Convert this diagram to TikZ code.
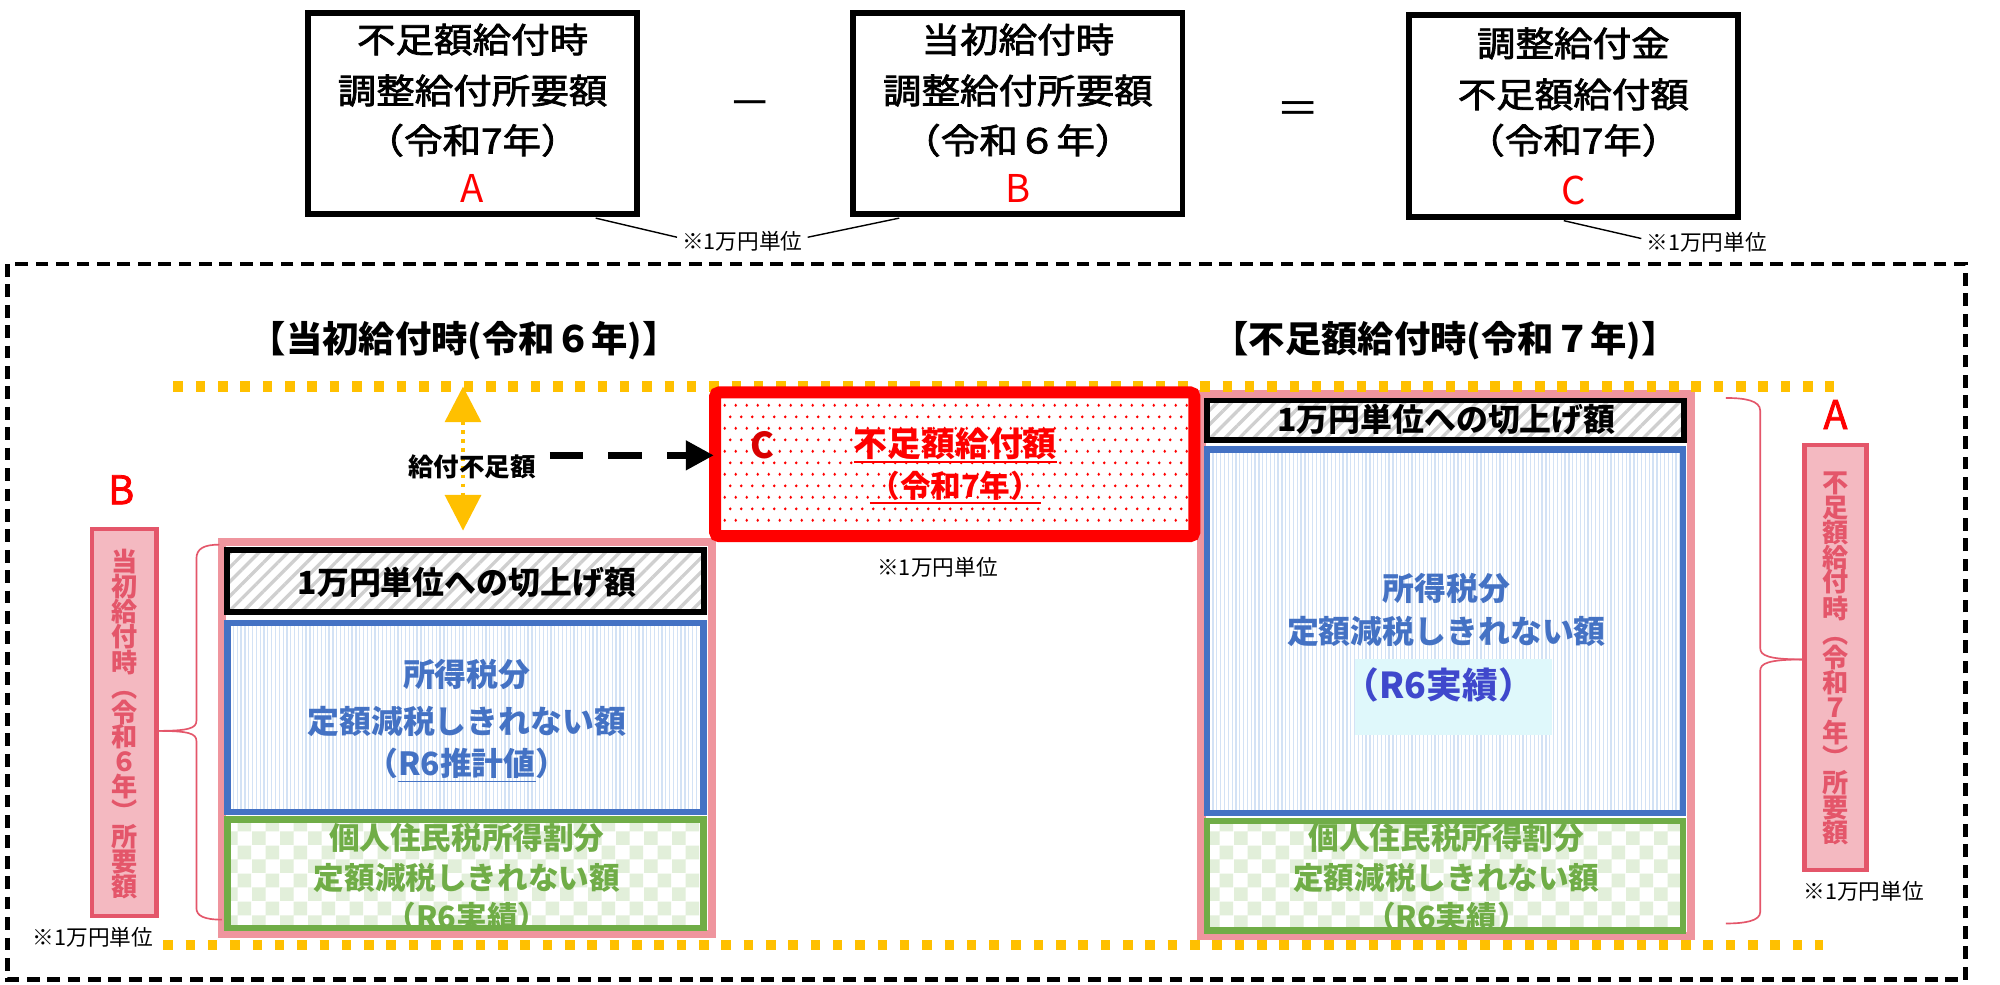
\documentclass[tikz,border=0pt]{standalone}
\usepackage{fontspec}
\setmainfont{Noto Sans CJK JP}
\newfontfamily\medjp{Noto Sans CJK JP}[FakeBold=2]
\usetikzlibrary{patterns,patterns.meta,arrows.meta}
\definecolor{pinkbd}{HTML}{EF959E}
\definecolor{lblfill}{HTML}{F4B9C1}
\definecolor{lblred}{HTML}{E4566A}
\definecolor{bluebd}{HTML}{4472C4}
\definecolor{stripe}{HTML}{D3E2F5}
\definecolor{greenbd}{HTML}{70AD47}
\definecolor{checkc}{HTML}{E2EFDA}
\definecolor{orng}{HTML}{FFC000}
\definecolor{darkbl}{HTML}{3F48CC}
\definecolor{cyanbg}{HTML}{DFF8FB}
\definecolor{hatchc}{HTML}{CFCFCF}
\pgfdeclarepatternformonly{checks}{\pgfpointorigin}{\pgfpoint{22pt}{22pt}}{\pgfpoint{22pt}{22pt}}{%
  \pgfpathrectangle{\pgfpointorigin}{\pgfpoint{11pt}{11pt}}%
  \pgfpathrectangle{\pgfpoint{11pt}{11pt}}{\pgfpoint{11pt}{11pt}}%
  \pgfusepath{fill}}
\pgfdeclarepatternformonly{rdots}{\pgfpointorigin}{\pgfpoint{9pt}{18pt}}{\pgfpoint{9pt}{18pt}}{%
  \pgfpathcircle{\pgfpoint{2.25pt}{4.5pt}}{1.2pt}%
  \pgfpathcircle{\pgfpoint{6.75pt}{13.5pt}}{1.2pt}%
  \pgfusepath{fill}}
\newcommand\ulx[1]{\setbox0\hbox{#1}\rlap{\rule[-5pt]{\wd0}{1.3pt}}\box0}
\newcommand\toptxt[1]{\scalebox{1.06}[0.95]{#1}}
\begin{document}
\begin{tikzpicture}[x=1pt,y=-1pt,
  every node/.style={inner sep=0pt, outer sep=0pt},
  topbox/.style={draw=black, line width=4.5pt, fill=white, minimum width=258pt, minimum height=158pt},
  toptext/.style={font=\medjp\fontsize{28.5}{30}\selectfont},
  abc/.style={text=red, font=\fontsize{30}{30}\selectfont},
  note/.style={font=\fontsize{17}{18}\selectfont},
  head/.style={font=\bfseries\fontsize{28.5}{29}\selectfont},
  container/.style={draw=pinkbd, line width=6.5pt, fill=white},
  hatchbox/.style={draw=black, line width=4.5pt, preaction={fill=white},
    pattern={Lines[angle=45,distance=8pt,line width=2.6pt]}, pattern color=hatchc},
  bluebox/.style={draw=bluebd, line width=5pt, preaction={fill=white},
    pattern={Lines[angle=90,distance=3pt,line width=1pt]}, pattern color=stripe},
  greenbox/.style={draw=greenbd, line width=5pt, preaction={fill=white},
    pattern=checks, pattern color=checkc},
  hatchtext/.style={font=\bfseries\fontsize{25}{26}\selectfont},
  bluetext/.style={text=bluebd, font=\bfseries\fontsize{25}{26}\selectfont},
  greentext/.style={text=greenbd, font=\bfseries\fontsize{24}{25}\selectfont},
  lblbox/.style={draw=lblred, line width=3.5pt, fill=lblfill},
  lbltext/.style={text=lblred, align=center, font=\bfseries\fontsize{20.5}{19.5}\selectfont},
  sideletter/.style={text=red, font=\medjp\fontsize{31}{31}\selectfont},
  bracestyle/.style={draw=lblred, line width=1.3pt},
  orangeline/.style={draw=orng, line width=8pt, dash pattern=on 7.5pt off 10pt},
  callout/.style={draw=black, line width=1.1pt}
]
\fill[white] (0,0) rectangle (1568,772);
\useasboundingbox (0,0) rectangle (1568,772);

% ---------- top formula ----------
\node[topbox] (boxA) at (370.5,89) {};
\node[toptext] (a1) at (370.5,31) {\toptxt{不足額給付時}};
\node[toptext] (a2) at (370.5,71) {\toptxt{調整給付所要額}};
\node[toptext] (a3) at (370.5,110) {\toptxt{（令和7年）}};
\node[abc] (a4) at (370.5,148) {A};

\node[font=\fontsize{34}{34}\selectfont] (minus) at (588,86) {－};

\node[topbox] (boxB) at (798,89) {};
\node[toptext] (b1) at (798,31) {\toptxt{当初給付時}};
\node[toptext] (b2) at (798,71) {\toptxt{調整給付所要額}};
\node[toptext] (b3) at (798,110) {\toptxt{（令和６年）}};
\node[abc] (b4) at (798,148) {B};

\node[font=\fontsize{34}{34}\selectfont] (equal) at (1018,89) {＝};

\node[topbox] (boxC) at (1233.5,91) {};
\node[toptext] (c1) at (1233.5,34) {\toptxt{調整給付金}};
\node[toptext] (c2) at (1233.5,74) {\toptxt{不足額給付額}};
\node[toptext] (c3) at (1233.5,110) {\toptxt{（令和7年）}};
\node[abc] (c4) at (1233.5,149) {C};

\node[note] (note1) at (582,189) {※1万円単位};
\node[note] (note2) at (1338,190) {※1万円単位};
\draw[callout] (467,171) -- ([xshift=-4pt,yshift=3pt]note1.west);
\draw[callout] ([xshift=4pt,yshift=3pt]note1.east) -- (705,171);
\draw[callout] (1226,173) -- ([xshift=-4pt,yshift=3pt]note2.west);

% ---------- outer frame ----------
\draw[black, line width=3.5pt, dash pattern=on 10pt off 6pt] (6,207) rectangle (1541,768);

% ---------- headings ----------
\node[head] (headL) at (364,267) {【当初給付時(令和６年)】};
\node[head] (headR) at (1133,267) {【不足額給付時(令和７年)】};

% ---------- left column (R6) ----------
\node[container, minimum width=384pt, minimum height=307pt] (contL) at (366,578.5) {};
\node[hatchbox, minimum width=374pt, minimum height=49pt] (hatL) at (365,455.5) {};
\node[hatchtext] (hatLt) at (366,457) {1万円単位への切上げ額};
\node[bluebox, minimum width=373pt, minimum height=148pt] (bluL) at (365,562.5) {};
\node[bluetext] (bluL1) at (366,529) {所得税分};
\node[bluetext] (bluL2) at (366,566) {定額減税しきれない額};
\node[bluetext] (bluL3) at (366,600) {（\ulx{R6推計値}）};
\node[greenbox, minimum width=373pt, minimum height=85pt] (grnL) at (365,685) {};
\node[greentext] (grnL1) at (366,657) {個人住民税所得割分};
\node[greentext] (grnL2) at (366,688) {定額減税しきれない額};
\node[greentext] (grnL3) at (366,719) {（R6実績）};

% ---------- right column (R7) ----------
\node[container, minimum width=384pt, minimum height=425pt] (contR) at (1134,521.5) {};
\node[hatchbox, minimum width=374pt, minimum height=31pt] (hatR) at (1133,329.5) {};
\node[hatchtext] (hatRt) at (1134,329) {1万円単位への切上げ額};
\node[bluebox, minimum width=373pt, minimum height=285pt] (bluR) at (1133,495) {};
\node[fill=cyanbg, minimum width=155pt, minimum height=59pt] (cyanR) at (1139.5,546.5) {};
\node[bluetext] (bluR1) at (1134,461) {所得税分};
\node[bluetext] (bluR2) at (1134,495) {定額減税しきれない額};
\node[text=darkbl, font=\bfseries\fontsize{28}{28}\selectfont] (bluR3) at (1128,537) {（R6実績）};
\node[greenbox, minimum width=373pt, minimum height=86pt] (grnR) at (1133,686.5) {};
\node[greentext] (grnR1) at (1134,657) {個人住民税所得割分};
\node[greentext] (grnR2) at (1134,688) {定額減税しきれない額};
\node[greentext] (grnR3) at (1134,719) {（R6実績）};

% ---------- orange guide lines ----------
\draw[orangeline] (136,303) -- (1438,303);
\draw[orangeline] (128,741) -- (1429,741);

% ---------- shortfall arrow ----------
\coordinate (gapTop) at (363,303);
\coordinate (gapBot) at (363,416);
\draw[draw=orng, line width=3.5pt, dash pattern=on 3pt off 4pt,
  {Triangle[length=28pt,width=28pt,fill=orng]}-{Triangle[length=28pt,width=28pt,fill=orng]}] (gapTop) -- (gapBot);
\node[font=\bfseries\fontsize{20}{20}\selectfont] (gap) at (370,366) {給付不足額};

% ---------- C box ----------
\node[draw=red, line width=9.4pt, rounded corners=3pt, preaction={fill=white},
  pattern=rdots, pattern color=red, minimum width=375.6pt, minimum height=112.6pt] (boxCC) at (748.5,364) {};
\node[text=red!85!black, font=\bfseries\fontsize{28}{28}\selectfont] (cc0) at (598,349) {C};
\node[text=red, font=\bfseries\fontsize{26.5}{27}\selectfont] (cc1) at (749,349) {\ulx{不足額給付額}};
\node[text=red, font=\bfseries\fontsize{24}{25}\selectfont] (cc2) at (749,382) {\ulx{（令和7年）}};
\node[note] (note3) at (735,445) {※1万円単位};

\draw[black, line width=6pt, dash pattern=on 26pt off 20pt,
  -{Triangle[length=22pt,width=22pt]}] ([xshift=11pt,yshift=9pt]gap.east) -- ([xshift=-1pt]boxCC.west |- 0,357);

% ---------- side labels ----------
\node[sideletter] (labB) at (95,384) {B};
\node[lblbox, minimum width=50.5pt, minimum height=303.5pt] (lblL) at (97.5,566.5) {};
\node[lbltext] (lblLt) at (97.5,567.5) {当\\初\\給\\付\\時\\︵\\令\\和\\６\\年\\︶\\所\\要\\額};
\node[note] (note4) at (73,735) {※1万円単位};

\node[sideletter] (labA) at (1439,325) {A};
\node[lblbox, minimum width=48.5pt, minimum height=333.5pt] (lblR) at (1439,515.5) {};
\node[lbltext] (lblRt) at (1439,516) {不\\足\\額\\給\\付\\時\\︵\\令\\和\\７\\年\\︶\\所\\要\\額};
\node[note] (note5) at (1461,699) {※1万円単位};

% ---------- braces ----------
\draw[bracestyle] (172,427) .. controls (160,427) and (154,430) .. (154,438) -- (154,565)
  .. controls (154,571) and (148,573) .. (lblL.east |- 0,573);
\draw[bracestyle] (lblL.east |- 0,573) .. controls (148,573) and (154,575) .. (154,581) -- (154,712)
  .. controls (154,718) and (160,721) .. (174,721);
\draw[bracestyle] (1353,312) .. controls (1368,312) and (1380,314) .. (1380,322) -- (1380,508)
  .. controls (1380,514) and (1386,517) .. (lblR.west |- 0,517);
\draw[bracestyle] (lblR.west |- 0,517) .. controls (1386,517) and (1380,520) .. (1380,526) -- (1380,715)
  .. controls (1380,722) and (1368,724) .. (1353,724);
\end{tikzpicture}
\end{document}
